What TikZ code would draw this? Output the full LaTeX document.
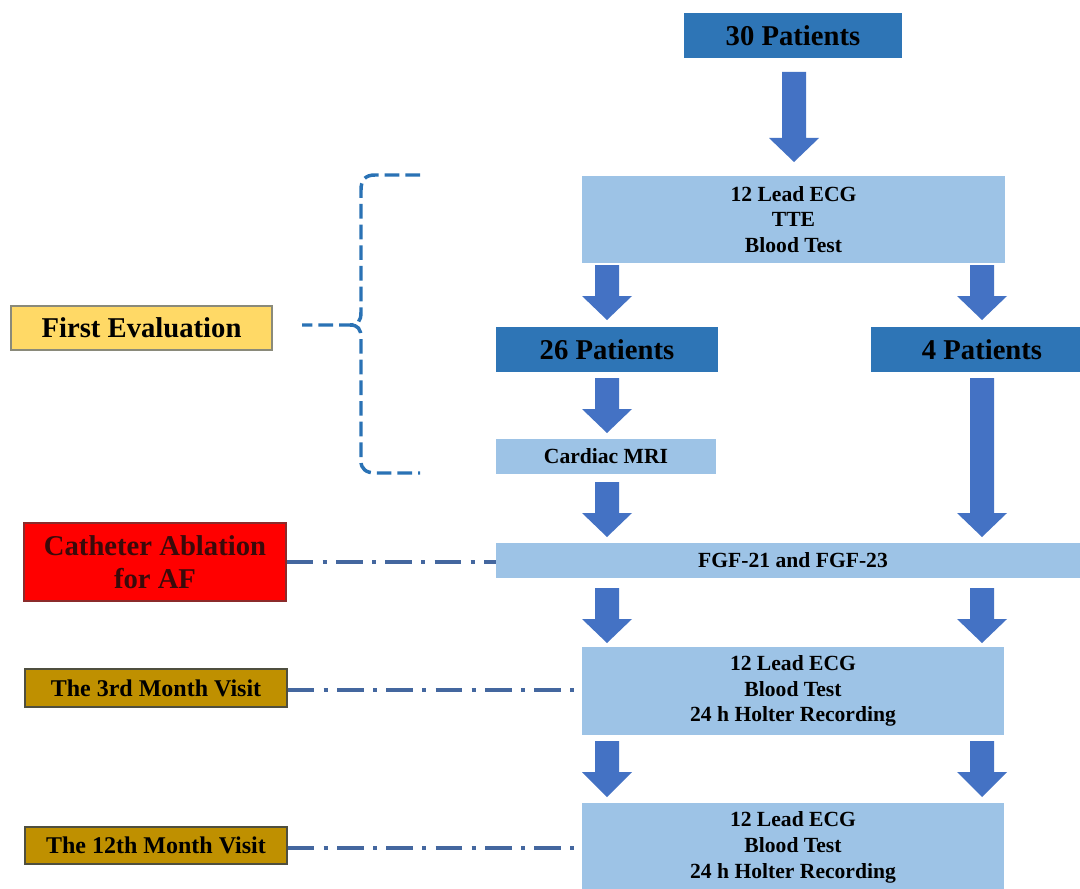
\documentclass[tikz,border=0pt]{standalone}
\usepackage{fontspec}
\setmainfont{Liberation Serif}
\definecolor{dkblue}{HTML}{2E75B6}
\definecolor{ltblue}{HTML}{9DC3E6}
\definecolor{arrblue}{HTML}{4472C4}
\definecolor{linkblue}{HTML}{44679F}
\definecolor{bracecol}{HTML}{2A72B5}
\definecolor{goldfill}{HTML}{FFD966}
\definecolor{goldedge}{HTML}{8A8A7A}
\definecolor{ochre}{HTML}{BF9000}
\definecolor{ochreedge}{HTML}{4F4F3F}
\definecolor{redfill}{HTML}{FF0000}
\definecolor{rededge}{HTML}{8B2B2B}
\definecolor{cathtext}{HTML}{3A0A0A}
\tikzset{
 sz/.style 2 args={minimum width=#1*0.75pt, minimum height=#2*0.75pt},
 base/.style={inner sep=0pt, align=center, text=black},
 pat/.style={base, fill=dkblue, font=\fontsize{21.5}{24}\selectfont\bfseries},
 info/.style={base, fill=ltblue, font=\fontsize{16.2}{19.3}\selectfont\bfseries},
 biglab/.style={base, font=\fontsize{21.5}{25}\selectfont\bfseries},
 visit/.style={base, fill=ochre, draw=ochreedge, line width=1pt, font=\fontsize{18}{20}\selectfont\bfseries},
 link/.style={draw=linkblue, line width=3pt, dash pattern=on 20pt off 7pt on 3pt off 7pt},
 bracestyle/.style={draw=bracecol, line width=2.6pt, dash pattern=on 11pt off 4.5pt},
 arr/.style={fill=arrblue},
}
\newcommand\blockarr[4]{\fill[arr] (#1-12,#2) -- (#1+12,#2) -- (#1+12,#3) -- (#1+25,#3) -- (#1,#4) -- (#1-25,#3) -- (#1-12,#3) -- cycle;}
\begin{document}
\begin{tikzpicture}[x=0.75pt,y=-0.75pt]
\clip (0,0) rectangle (1080,888);
\fill[white] (0,0) rectangle (1080,888);
% main column
\node[pat, sz={218}{45}] (p30) at (793,35.5) {30 Patients};
\node[info, sz={423}{87}] (eval) at (793.5,219.5) {12 Lead ECG\\TTE\\Blood Test};
\node[pat, sz={222}{45}] (p26) at (607,349.5) {26 Patients};
\node[pat, sz={222}{45}] (p4) at (982,349.5) {4 Patients};
\node[info, sz={220}{35}] (mri) at (606,456.5) {Cardiac MRI};
\node[info, sz={594}{35}] (fgf) at (793,560.5) {FGF-21 and FGF-23};
\node[info, sz={422}{88}] (m3) at (793,691) {12 Lead ECG\\Blood Test\\24 h Holter Recording};
\node[info, sz={422}{89}] (m12) at (793,847.5) {12 Lead ECG\\Blood Test\\24 h Holter Recording};
% block arrows
\blockarr{794}{72}{138}{162}
\blockarr{607}{265}{296}{320}
\blockarr{982}{265}{296}{320}
\blockarr{607}{378}{409}{433}
\blockarr{607}{482}{513}{537}
\blockarr{982}{378}{513}{537}
\blockarr{607}{588}{619}{643}
\blockarr{982}{588}{619}{643}
\blockarr{607}{741}{772}{797}
\blockarr{982}{741}{772}{797}
% left labels
\node[biglab, fill=goldfill, draw=goldedge, line width=1pt, sz={261}{44}] (first) at (141.5,328) {First Evaluation};
\node[biglab, fill=redfill, draw=rededge, line width=1pt, text=cathtext, sz={262}{78}] (cath) at (155,562) {Catheter Ablation\\for AF};
\node[visit, sz={262}{38}] (v3) at (156,688) {The 3rd Month Visit};
\node[visit, sz={262}{37}] (v12) at (156,845.5) {The 12th Month Visit};
% brace
\coordinate (bt) at (420,175);
\coordinate (bb) at (420,473);
\coordinate (bm) at (302,325);
\draw[bracestyle] (bt) -- (375,175) .. controls (365,175) and (361,180) .. (361,190) -- (361,312) .. controls (361,321) and (358,325) .. (350,325) -- (bm);
\draw[bracestyle] (350,325) .. controls (358,325) and (361,329) .. (361,338) -- (361,461) .. controls (361,469) and (366,473) .. (376,473) -- (bb);
% dash-dot links
\draw[link] (cath.east) -- (cath.east -| fgf.west);
\draw[link] ([yshift=-1.5pt]v3.east) -- ([yshift=-1.5pt]v3.east -| m3.west);
\draw[link] ([yshift=-1.5pt]v12.east) -- ([yshift=-1.5pt]v12.east -| m12.west);
\end{tikzpicture}
\end{document}
